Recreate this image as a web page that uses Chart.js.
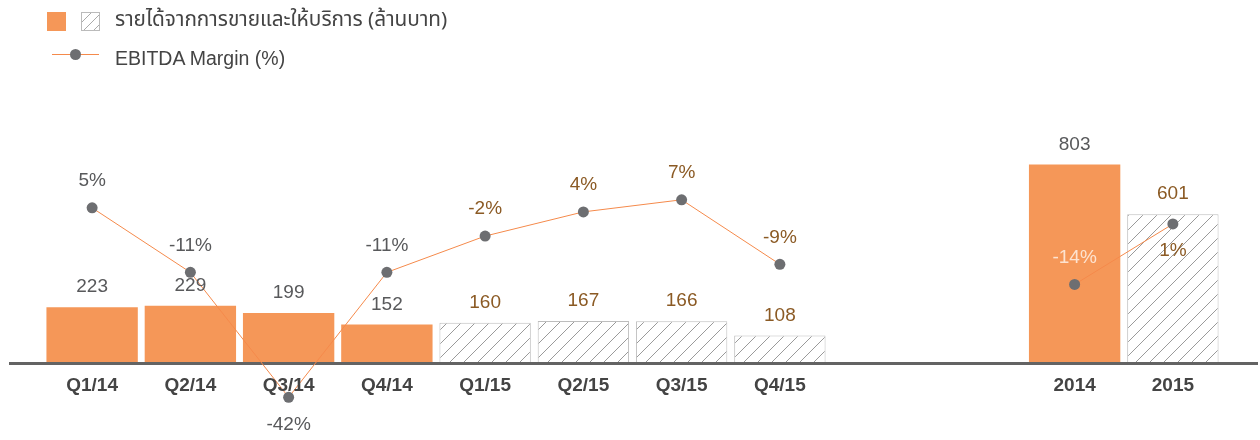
<!DOCTYPE html>
<html><head><meta charset="utf-8">
<script src="https://cdn.jsdelivr.net/npm/chart.js@4.4.0/dist/chart.umd.min.js"></script>
<style>
html,body{margin:0;padding:0;background:#fff;}
#wrap{position:relative;width:1260px;height:440px;overflow:hidden;}
canvas{position:absolute;left:0;top:0;}
.leg{position:absolute;font-family:"Liberation Sans",Arial,sans-serif;font-size:19.5px;color:#444;height:24px;line-height:24px;white-space:nowrap;}
.thai{font-family:"Noto Sans Thai","Noto Sans Thai Looped","Liberation Sans",Arial,sans-serif;font-size:20.8px;}
.sw{position:absolute;box-sizing:border-box;}
</style></head><body>
<div id="wrap"><canvas id="c" width="1260" height="440"></canvas><div id="legend"></div></div>
<script>
const categories = ['Q1/14','Q2/14','Q3/14','Q4/14','Q1/15','Q2/15','Q3/15','Q4/15','','','2014','2015'];
const revenue = [223,229,199,152,160,167,166,108,null,null,803,601];
const ebitdaMargin = [5,-11,-42,-11,-2,4,7,-9,null,null,-14,1];
const seriesNames = ['รายได้จากการขายและให้บริการ (ล้านบาท)','EBITDA Margin (%)'];

const ORANGE='#F59758', LINE='#F58A4B', DOT='#6D6E71', GRAY='#58595B', BROWN='#8B5A24', LIGHT='#FDE3D0';
const isHatched = i => /15$/.test(categories[i]);

function makeHatch(){
  const c=document.createElement('canvas'); c.width=14; c.height=14;
  const g=c.getContext('2d');
  g.fillStyle='#fff'; g.fillRect(0,0,14,14);
  g.strokeStyle='#9a9a9a'; g.lineWidth=1;
  g.beginPath();
  g.moveTo(0,14); g.lineTo(14,0);
  g.moveTo(-1,1); g.lineTo(1,-1);
  g.moveTo(13,15); g.lineTo(15,13);
  g.stroke();
  return g.createPattern(c,'repeat');
}
const hatch = makeHatch();

// legend (HTML)
const L = document.getElementById('legend');
L.innerHTML =
  '<div class="sw" style="left:47px;top:12px;width:19px;height:19px;background:'+ORANGE+'"></div>'+
  '<div class="sw" style="left:81px;top:12px;width:19px;height:19px;border:1px solid #bbb;background:repeating-linear-gradient(135deg,#fff 0 6px,#aaa 6px 7px)"></div>'+
  '<div class="leg thai" style="left:115px;top:8px"></div>'+
  '<div class="sw" style="left:52px;top:54px;width:47px;height:1px;background:'+LINE+'"></div>'+
  '<div class="sw" style="left:70px;top:49px;width:11px;height:11px;border-radius:50%;background:'+DOT+'"></div>'+
  '<div class="leg" style="left:115px;top:46px"></div>';
const legTexts = L.querySelectorAll('.leg');
legTexts[0].textContent = seriesNames[0];
legTexts[1].textContent = seriesNames[1];

const baselinePlugin = {
  id:'baseline',
  beforeDatasetDraw(chart, args){
    if(args.index!==0) return;
    const ctx=chart.ctx, y=chart.scales.yRev.getPixelForValue(0)+1.5;
    ctx.save(); ctx.strokeStyle='#636363'; ctx.lineWidth=3;
    ctx.beginPath(); ctx.moveTo(9,y); ctx.lineTo(1258,y); ctx.stroke(); ctx.restore();
  }
};

const TICK_OFFSET = 24; // below the zero line
const tickPlugin = {
  id:'ticks',
  afterDraw(chart){
    const ctx=chart.ctx, x=chart.scales.x, y0=chart.scales.yRev.getPixelForValue(0);
    ctx.save();
    ctx.font='bold 19px "Liberation Sans", Arial, sans-serif';
    ctx.fillStyle='#444'; ctx.textAlign='center'; ctx.textBaseline='middle';
    categories.forEach((c,i)=>{ if(c) ctx.fillText(c, x.getPixelForTick(i), y0+TICK_OFFSET); });
    ctx.restore();
  }
};

const labelPlugin = {
  id:'vals',
  afterDatasetsDraw(chart){
    const ctx=chart.ctx;
    const lineMeta=chart.getDatasetMeta(0), barMeta=chart.getDatasetMeta(1);
    const y0=chart.scales.yRev.getPixelForValue(0);
    ctx.save();
    ctx.font='19px "Liberation Sans", Arial, sans-serif';
    ctx.textAlign='center'; ctx.textBaseline='middle';
    const barLabelY=[];
    barMeta.data.forEach((el,i)=>{
      if(revenue[i]==null) return;
      const y=el.y-20; barLabelY[i]=y;
      ctx.fillStyle=isHatched(i)?BROWN:GRAY;
      ctx.fillText(String(revenue[i]), el.x, y);
    });
    const tickY=y0+TICK_OFFSET;
    lineMeta.data.forEach((el,i)=>{
      if(ebitdaMargin[i]==null) return;
      let y=el.y-27;
      if(Math.abs(y-barLabelY[i])<18 || Math.abs(y-tickY)<18) y=el.y+27;
      const bar=barMeta.data[i];
      const inside = y>bar.y+10 && y<bar.base;
      ctx.fillStyle = isHatched(i)?BROWN:(inside?LIGHT:GRAY);
      ctx.fillText(ebitdaMargin[i]+'%', el.x, y);
    });
    ctx.restore();
  }
};

new Chart(document.getElementById('c'), {
  type:'bar',
  data:{
    labels:categories,
    datasets:[
      {type:'line', label:seriesNames[1], data:ebitdaMargin, yAxisID:'yPct',
       borderColor:LINE, borderWidth:1, pointRadius:5.5, pointHoverRadius:5.5,
       pointBackgroundColor:DOT, pointBorderWidth:0, spanGaps:false, order:0},
      {type:'bar', label:seriesNames[0], data:revenue, yAxisID:'yRev',
       backgroundColor:c=>isHatched(c.dataIndex)?hatch:ORANGE,
       borderColor:c=>isHatched(c.dataIndex)?'#bdbdbd':ORANGE,
       borderWidth:c=>isHatched(c.dataIndex)?1:0,
       barPercentage:0.93, categoryPercentage:1, order:1}
    ]
  },
  options:{
    responsive:false, animation:false, events:[],
    layout:{padding:{left:43,right:38,top:100,bottom:10}},
    plugins:{legend:{display:false}, tooltip:{enabled:false}},
    scales:{
      x:{display:false, offset:true},
      yRev:{display:false, min:-276.4, max:1065},
      yPct:{display:false, min:-50.12, max:31.76}
    }
  },
  plugins:[baselinePlugin,labelPlugin,tickPlugin]
});
</script>
</body></html>
